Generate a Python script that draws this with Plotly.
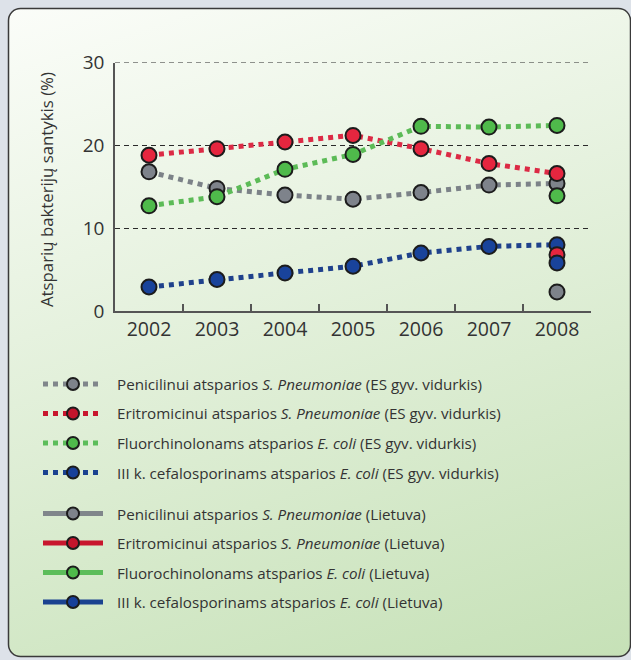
import base64
import plotly.graph_objects as go

# ---------------- data ----------------
years = ["2002", "2003", "2004", "2005", "2006", "2007", "2008"]

es_penicilin = [16.8, 14.8, 14.0, 13.5, 14.3, 15.2, 15.4]
es_eritromicin = [18.8, 19.6, 20.4, 21.2, 19.6, 17.8, 16.6]
es_fluorchinolon = [12.7, 13.8, 17.1, 18.9, 22.3, 22.2, 22.4]
es_cefalosporin = [2.9, 3.8, 4.6, 5.4, 7.0, 7.8, 8.0]

lt_penicilin = [None, None, None, None, None, None, 2.3]
lt_eritromicin = [None, None, None, None, None, None, 6.8]
lt_fluorchinolon = [None, None, None, None, None, None, 13.9]
lt_cefalosporin = [None, None, None, None, None, None, 5.8]

y_ticks = [0, 10, 20, 30]
y_title = "Atsparių bakterijų santykis (%)"

es_names = [
    "Penicilinui atsparios <i>S. Pneumoniae</i> (ES gyv. vidurkis)",
    "Eritromicinui atsparios <i>S. Pneumoniae</i> (ES gyv. vidurkis)",
    "Fluorchinolonams atsparios <i>E. coli</i> (ES gyv. vidurkis)",
    "III k. cefalosporinams atsparios <i>E. coli</i> (ES gyv. vidurkis)",
]
lt_names = [
    "Penicilinui atsparios <i>S. Pneumoniae</i> (Lietuva)",
    "Eritromicinui atsparios <i>S. Pneumoniae</i> (Lietuva)",
    "Fluorochinolonams atsparios <i>E. coli</i> (Lietuva)",
    "III k. cefalosporinams atsparios <i>E. coli</i> (Lietuva)",
]

# ---------------- styles ----------------
W, H = 631, 660
marker_cols = ["#7e838b", "#e5263f", "#4fba4b", "#19439b"]
line_cols = ["#7c8288", "#dc2a45", "#5cbb57", "#1f418c"]
leg_marker_cols = ["#7e838b", "#c3142c", "#4fba4b", "#17409a"]
leg_line_cols = ["#80868b", "#c8162e", "#5cbd5a", "#1a4290"]
outline = "#1c1c1c"
text_col = "#333333"
font_fam = "Open Sans"

es_series = [es_penicilin, es_eritromicin, es_fluorchinolon, es_cefalosporin]
lt_series = [lt_penicilin, lt_eritromicin, lt_fluorchinolon, lt_cefalosporin]

fig = go.Figure()

for vals, name, mc, lc in zip(es_series, es_names, marker_cols, line_cols):
    fig.add_trace(go.Scatter(
        x=years, y=vals, name=name, mode="lines+markers",
        line=dict(color=lc, width=5, dash="5px,5px"),
        marker=dict(size=15, color=mc, line=dict(color=outline, width=2)),
        cliponaxis=False, showlegend=False,
    ))

for vals, name, mc, lc in zip(lt_series, lt_names, marker_cols, line_cols):
    fig.add_trace(go.Scatter(
        x=years, y=vals, name=name, mode="lines+markers",
        line=dict(color=lc, width=5),
        marker=dict(size=15, color=mc, line=dict(color=outline, width=2)),
        cliponaxis=False, showlegend=False,
    ))

# ---------------- custom legend (on a hidden helper axis) ----------------
row0, step, gap = 384, 29.5, 11.5
rows = [row0 + i * step for i in range(4)] + [row0 + 4 * step + gap + i * step for i in range(4)]
leg_names = es_names + lt_names
leg_dash = ["5px,5px"] * 4 + ["solid"] * 4
for i, (ry, nm, dsh) in enumerate(zip(rows, leg_names, leg_dash)):
    c = i % 4
    fig.add_trace(go.Scatter(
        x=[0, 1], y=[ry, ry], mode="lines", xaxis="x2", yaxis="y2",
        line=dict(color=leg_line_cols[c], width=5, dash=dsh),
        showlegend=False, hoverinfo="skip",
    ))
    fig.add_trace(go.Scatter(
        x=[0.5], y=[ry], mode="markers", xaxis="x2", yaxis="y2",
        marker=dict(size=12, color=leg_marker_cols[c], line=dict(color=outline, width=2)),
        showlegend=False, hoverinfo="skip",
    ))
    fig.add_annotation(
        x=115 / W, y=1 - ry / H, xref="paper", yref="paper",
        text=nm, showarrow=False, xanchor="left", yanchor="middle",
        font=dict(family=font_fam, size=15.2, color=text_col),
    )

# y title
fig.add_annotation(
    x=47 / W, y=1 - 190 / H, xref="paper", yref="paper",
    text=y_title, showarrow=False, textangle=-90,
    xanchor="center", yanchor="middle",
    font=dict(family=font_fam, size=16.8, color=text_col),
)

# top dashed reference line at the axis maximum (plotly skips the edge gridline)
fig.add_shape(type="line", xref="x domain", yref="y", x0=0, x1=1, y0=y_ticks[-1], y1=y_ticks[-1],
              line=dict(color="#2a2a2a", width=1, dash="5px,4px"))

# ---------------- background panel (gradient rounded box) ----------------
svg = f"""<svg xmlns='http://www.w3.org/2000/svg' width='{W}' height='{H}' viewBox='0 0 {W} {H}' preserveAspectRatio='none'>
<defs><linearGradient id='g' gradientUnits='userSpaceOnUse' x1='8' y1='8' x2='255' y2='776'>
<stop offset='0' stop-color='#fbfdf9'/><stop offset='1' stop-color='#c6e1b7'/>
</linearGradient></defs>
<rect x='8.5' y='8.5' width='622' height='648' rx='12' ry='12' fill='url(#g)' stroke='#3a3a3a' stroke-width='1.5'/>
</svg>"""
src = "data:image/svg+xml;base64," + base64.b64encode(svg.encode()).decode()
fig.add_layout_image(dict(
    source=src, xref="paper", yref="paper", x=0, y=1, sizex=1, sizey=1,
    sizing="stretch", xanchor="left", yanchor="top", layer="below",
))

y0_px, y30_px = 311, 62.5
fig.update_layout(
    width=W, height=H,
    margin=dict(l=0, r=0, t=0, b=0, pad=0, autoexpand=False),
    paper_bgcolor="#dde2e9",
    plot_bgcolor="rgba(0,0,0,0)",
    font=dict(family=font_fam, color=text_col),
    showlegend=False,
    xaxis=dict(
        domain=[115 / W, 591 / W], type="category", range=[-0.5, 6.5], automargin=False,
        tickson="boundaries", ticks="inside", ticklen=7, tickwidth=1.5, tickcolor="#555",
        showline=True, linecolor="#555", linewidth=1.5, showgrid=False, zeroline=False,
        tickfont=dict(size=19.5, color=text_col), ticklabelstandoff=0,
    ),
    yaxis=dict(
        domain=[1 - y0_px / H, 1 - y30_px / H], range=[0, 30], automargin=False,
        tickvals=y_ticks, ticks="", showline=True, linecolor="#555", linewidth=1.5,
        showgrid=True, gridcolor="#2a2a2a", gridwidth=1, griddash="5px,4px",
        zeroline=False, tickfont=dict(size=19, color=text_col), ticklabelstandoff=5,
    ),
    xaxis2=dict(domain=[43 / W, 103 / W], range=[0, 1], visible=False, anchor="y2",
                fixedrange=True, automargin=False),
    yaxis2=dict(domain=[0, 1], range=[H, 0], visible=False, anchor="x2",
                fixedrange=True, automargin=False),
)

fig.write_html("out.html")
